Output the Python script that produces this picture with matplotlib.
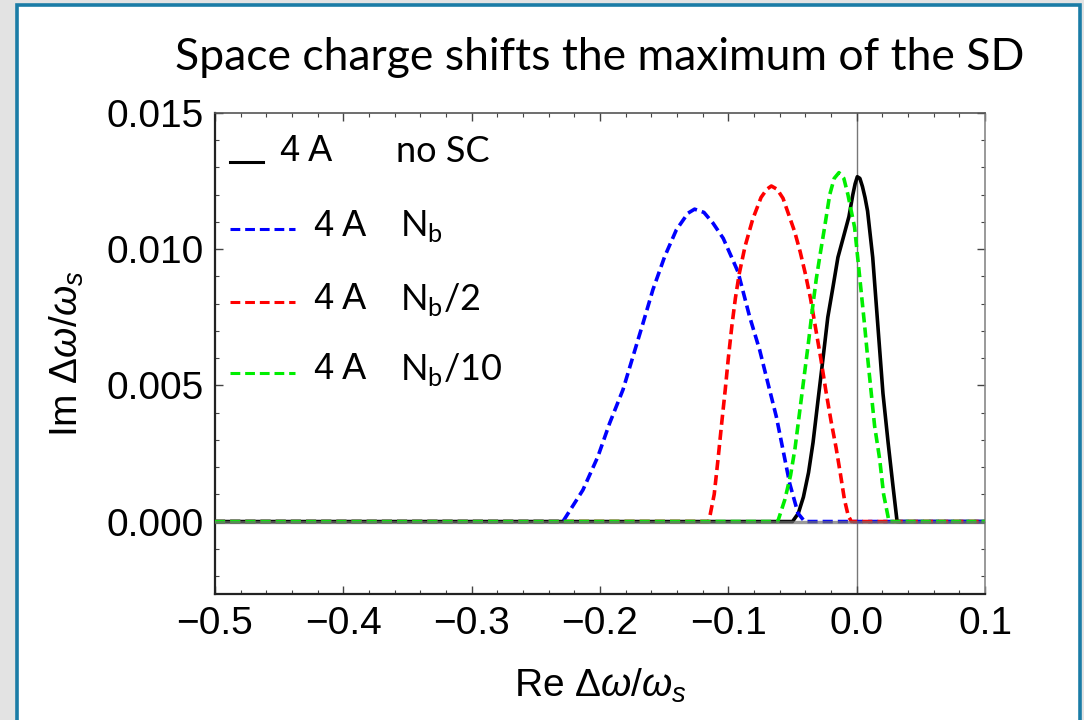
import matplotlib
matplotlib.use('Agg')
import matplotlib.pyplot as plt
from matplotlib.lines import Line2D
from matplotlib.patches import Rectangle
from matplotlib.ticker import MultipleLocator

plt.rcParams['font.family'] = ['Liberation Sans', 'DejaVu Sans']
plt.rcParams['mathtext.fontset'] = 'custom'
plt.rcParams['mathtext.rm'] = 'Liberation Sans'
plt.rcParams['mathtext.it'] = 'Liberation Sans:italic'

# 谱分布曲线 (Re, Im)
black_x = [-0.5, -0.0500, -0.0455, -0.0415, -0.0375, -0.0340, -0.0300, -0.0262, -0.0225,
           -0.0185, -0.0146, -0.0100, -0.0060, -0.0030, -0.0012, 0.0005, 0.0025, 0.0045,
           0.0065, 0.0085, 0.0125, 0.0165, 0.0205, 0.0245, 0.0283, 0.0315, 0.1]
black_y = [0, 0, 0.0003, 0.0009, 0.0018, 0.0029, 0.0045, 0.0060, 0.0075,
           0.0086, 0.0097, 0.0105, 0.0112, 0.0120, 0.0124, 0.01266, 0.0126, 0.0123,
           0.0119, 0.0114, 0.0097, 0.0072, 0.0047, 0.0029, 0.0013, 0, 0]

blue_x = [-0.5, -0.2289, -0.2133, -0.2016, -0.1925, -0.1821, -0.1743, -0.1665, -0.1588,
          -0.1496, -0.1405, -0.1315, -0.1263, -0.1190, -0.1120, -0.1040, -0.0977, -0.0925,
          -0.0834, -0.0756, -0.0691, -0.0626, -0.0574, -0.0522, -0.0457, -0.0405, 0.1]
blue_y = [0, 0, 0.00116, 0.00239, 0.00361, 0.00484, 0.00606, 0.00728, 0.00851,
          0.00973, 0.01071, 0.01132, 0.01147, 0.01135, 0.01096, 0.0104, 0.00973, 0.00917,
          0.00752, 0.0063, 0.00507, 0.00385, 0.00263, 0.0014, 0.0003, 0, 0]

red_x = [-0.5, -0.1152, -0.1110, -0.1080, -0.1052, -0.1025, -0.1000, -0.0972, -0.0945,
         -0.0915, -0.0870, -0.0810, -0.0745, -0.0700, -0.0665, -0.0620, -0.0574, -0.0483,
         -0.0440, -0.0400, -0.0360, -0.0320, -0.0280, -0.0240, -0.0200, -0.0160, -0.0125,
         -0.0095, -0.0065, -0.0040, 0.1]
red_y = [0, 0, 0.0010, 0.0023, 0.0036, 0.0048, 0.0060, 0.0072, 0.0082,
         0.0091, 0.0101, 0.0111, 0.0119, 0.0122, 0.01232, 0.0122, 0.01187, 0.01064,
         0.0099, 0.0091, 0.0082, 0.0071, 0.0060, 0.0048, 0.0037, 0.0027, 0.0017,
         0.0008, 0.0002, 0, 0]

green_x = [-0.5, -0.0615, -0.0560, -0.0515, -0.0480, -0.0445, -0.0410, -0.0375, -0.0345,
           -0.0315, -0.0285, -0.0250, -0.0210, -0.0175, -0.0138, -0.0100, -0.0068, -0.0016,
           0.0010, 0.0036, 0.0062, 0.0088, 0.0114, 0.0140, 0.0179, 0.0210, 0.0252, 0.1]
green_y = [0, 0, 0.0008, 0.0017, 0.0027, 0.0040, 0.0053, 0.0066, 0.0078,
           0.0089, 0.0098, 0.0108, 0.0120, 0.0126, 0.01281, 0.0126, 0.0120, 0.0108,
           0.0096, 0.0084, 0.0072, 0.0059, 0.0047, 0.0035, 0.0023, 0.0010, 0, 0]

x_ticks = [-0.5, -0.4, -0.3, -0.2, -0.1, 0.0, 0.1]
y_ticks = [0.000, 0.005, 0.010, 0.015]

legend_left = ['4 A', '4 A', '4 A', '4 A']
legend_right = ['no SC', r'N$_{\mathregular{b}}$', r'N$_{\mathregular{b}}$/2',
                r'N$_{\mathregular{b}}$/10']

fig = plt.figure(figsize=(10.84, 7.2), dpi=100, facecolor='#e3e3e3')
# 幻灯片白底蓝框
fig.patches.append(Rectangle((16.5 / 1084, -0.05), 1063 / 1084, 1 - 4.5 / 720 + 0.05,
                             transform=fig.transFigure, facecolor='white',
                             edgecolor='#1a7ca6', linewidth=2.6, zorder=-1))

ax = fig.add_axes([215 / 1084, 1 - 594 / 720, 770 / 1084, 481 / 720])
ax.set_zorder(1)

ax.axvline(0, color='#777777', lw=1.0, zorder=1)

lw = 2.6
dash = (0, (2.8, 1.4))
ax.plot(black_x, black_y, color='black', lw=lw, zorder=2, solid_joinstyle='round')
ax.plot(blue_x, blue_y, color='#0000ff', lw=lw, ls=dash, zorder=3)
ax.plot(red_x, red_y, color='#ff0000', lw=lw, ls=dash, zorder=4)
ax.plot(green_x, green_y, color='#00ee00', lw=lw, ls=dash, zorder=5)
# 零线（坐标轴）
ax.axhline(0, color='#707070', lw=2.4, alpha=0.7, zorder=6)

ax.set_xlim(-0.5, 0.1)
ax.set_ylim(-0.00266, 0.015)
ax.set_xticks(x_ticks)
ax.set_xticklabels([('%.1f' % v).replace('-', '\u2212') for v in x_ticks])
ax.set_yticks(y_ticks)
ax.set_yticklabels(['%.3f' % v for v in y_ticks])
ax.xaxis.set_minor_locator(MultipleLocator(0.02))
ax.yaxis.set_minor_locator(MultipleLocator(0.001))
ax.tick_params(which='both', direction='in', top=True, right=True, color='#444444')
ax.tick_params(which='major', length=6, width=1.0, labelsize=28, pad=9)
ax.tick_params(which='minor', length=3, width=0.8)
ax.tick_params(axis='y', pad=8)

ax.spines['left'].set_color('#222222')
ax.spines['left'].set_linewidth(1.6)
ax.spines['bottom'].set_color('#222222')
ax.spines['bottom'].set_linewidth(1.6)
ax.spines['top'].set_color('#555555')
ax.spines['top'].set_linewidth(1.2)
ax.spines['right'].set_color('#888888')
ax.spines['right'].set_linewidth(1.2)

ax.set_xlabel(r'Re $\Delta\omega/\omega_s$', fontsize=28)
ax.xaxis.set_label_coords(0.5, -0.152)
ax.set_ylabel(r'Im $\Delta\omega/\omega_s$', fontsize=28)
ax.yaxis.set_label_coords(-0.168, 0.5)

# 图例（手动排版）
styles = [('black', '-'), ('#0000ff', dash), ('#ff0000', dash), ('#00ee00', dash)]
rows_y = [0.919, 0.765, 0.613, 0.466]
for i, (c, s) in enumerate(styles):
    if i == 0:
        ax.add_line(Line2D([0.0195, 0.062], [0.898, 0.898], transform=ax.transAxes,
                           color=c, lw=2.2, ls=s))
        ax.text(0.084, rows_y[i], legend_left[i], transform=ax.transAxes,
                fontsize=26, va='center', ha='left')
        ax.text(0.235, rows_y[i], legend_right[i], transform=ax.transAxes,
                fontsize=26, va='center', ha='left', family='Lato')
    else:
        ax.add_line(Line2D([0.0195, 0.104], [rows_y[i] - 0.006] * 2, transform=ax.transAxes,
                           color=c, lw=2.2, ls=(0, (3.2, 1.6))))
        ax.text(0.1286, rows_y[i], legend_left[i], transform=ax.transAxes,
                fontsize=26, va='center', ha='left')
        ax.text(0.2403, rows_y[i], legend_right[i], transform=ax.transAxes,
                fontsize=26, va='center', ha='left', family='Lato')

fig.text(600 / 1084, 1 - 58 / 720, 'Space charge shifts the maximum of the SD',
         fontsize=32, family='Lato', ha='center', va='center')

fig.savefig('out.png', dpi=100, facecolor=fig.get_facecolor())
